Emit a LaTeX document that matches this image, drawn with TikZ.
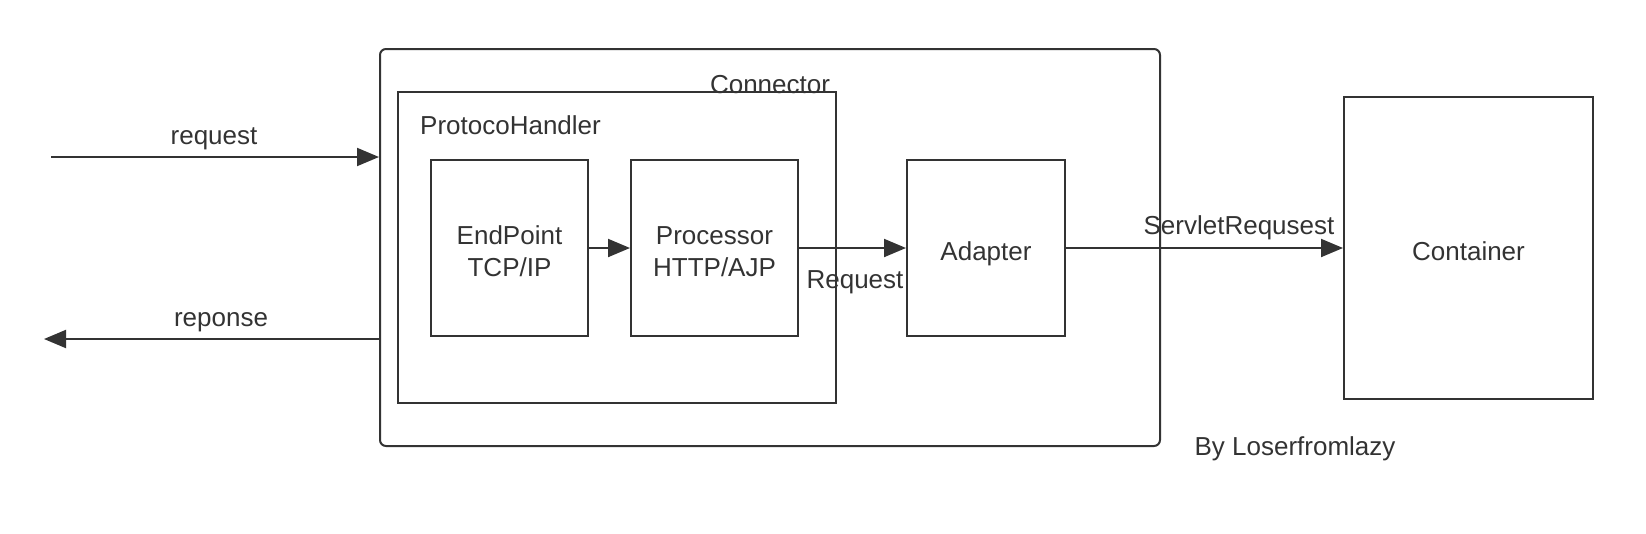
\documentclass[tikz,border=0pt]{standalone}
\usepackage{fontspec}
\setmainfont{Liberation Sans}
\usetikzlibrary{arrows.meta}
\definecolor{ink}{HTML}{333333}
\newcommand\oneline[1]{\raisebox{-12.5pt}[0pt][0pt]{#1}}
\newcommand\twolines[2]{\raisebox{-28pt}[0pt][0pt]{\begin{tabular}[b]{@{}c@{}}#1\\#2\end{tabular}}}
\begin{document}
\begin{tikzpicture}[x=1pt,y=-1pt,
  box/.style={draw=ink,line width=2pt,inner sep=0pt,align=center,text=ink,font=\fontsize{26}{32}\selectfont},
  lbl/.style={text=ink,inner sep=0pt,font=\fontsize{26}{32}\selectfont},
  conn/.style={draw=ink,line width=2pt,-{Triangle[length=22pt,width=18pt]}}]
\useasboundingbox (0,0) rectangle (1646,533);
\node[box,rounded corners=6pt,minimum width=780pt,minimum height=397pt] (cn) at (770,247.5) {};
\node[box,minimum width=438pt,minimum height=311pt] (ph) at (617,247.5) {};
\node[lbl] (cnl) at (770,85) {Connector};
\node[lbl,anchor=west] (phl) at (420,125) {ProtocoHandler};
\node[box,minimum width=157pt,minimum height=176pt] (ep) at (509.5,248) {\twolines{EndPoint}{TCP/IP}};
\node[box,minimum width=167pt,minimum height=176pt] (pr) at (714.5,248) {\twolines{Processor}{HTTP/AJP}};
\node[box,minimum width=158pt,minimum height=176pt] (ad) at (986,248) {\oneline{Adapter}};
\node[box,minimum width=249pt,minimum height=302pt] (ct) at (1468.5,248) {\oneline{Container}};
\coordinate (rq) at (51,157);
\coordinate (rs) at (44,339);
\draw[conn] (rq) -- (rq -| cn.west);
\draw[conn] (rs -| cn.west) -- (rs);
\draw[conn] (ep) -- (pr);
\draw[conn] (pr) -- (ad);
\draw[conn] (ad) -- (ct);
\node[lbl] (l1) at (214,139) {request};
\node[lbl] (l2) at (221,322) {reponse};
\node[lbl] (l3) at (855,282) {Request};
\node[lbl] (l4) at (1239,228) {ServletRequsest};
\node[lbl] (l5) at (1295,449) {By Loserfromlazy};
\end{tikzpicture}
\end{document}
